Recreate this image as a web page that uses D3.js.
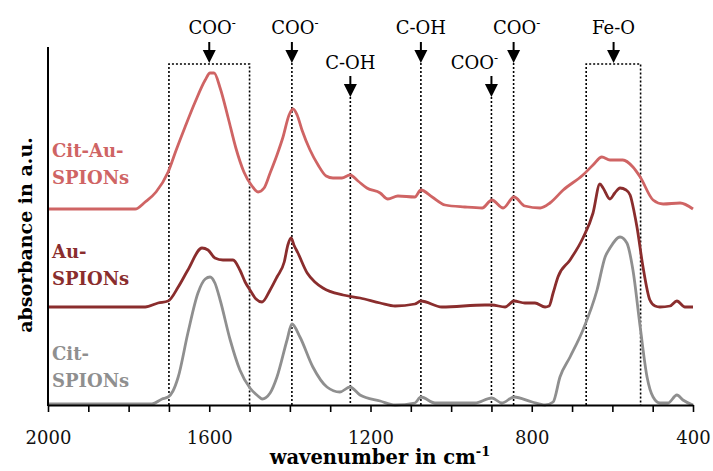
<!DOCTYPE html>
<html>
<head>
<meta charset="utf-8">
<script src="https://cdn.jsdelivr.net/npm/d3@7"></script>
<style>
  body { margin: 0; background: #fff; }
  text { font-family: "DejaVu Serif", "Liberation Serif", serif; }
</style>
</head>
<body>
<svg id="chart"></svg>
<script>
// spectra, [wavenumber in cm-1, absorbance in a.u.] (stacked offsets included)
const citAuSpions = [[2000,1.96],[1850,1.96],[1784,1.96],[1759,2.03],[1732,2.13],[1702,2.33],[1682,2.55],[1660,2.78],[1635,3.03],[1610,3.25],[1598,3.32],[1588,3.32],[1573,3.17],[1553,2.87],[1534,2.57],[1514,2.33],[1494,2.19],[1479,2.13],[1464,2.17],[1449,2.32],[1432,2.50],[1417,2.68],[1402,2.90],[1392,2.96],[1382,2.90],[1370,2.75],[1350,2.55],[1330,2.40],[1310,2.29],[1293,2.27],[1271,2.27],[1251,2.30],[1231,2.24],[1209,2.17],[1176,2.12],[1157,2.06],[1132,2.09],[1090,2.08],[1075,2.15],[1047,2.08],[1015,2.00],[966,1.98],[923,1.97],[899,2.05],[871,1.97],[844,2.08],[817,1.99],[779,1.97],[755,2.02],[722,2.15],[673,2.30],[648,2.40],[626,2.48],[606,2.45],[574,2.45],[549,2.38],[531,2.28],[499,2.05],[474,2.01],[432,2.02],[400,1.96]];

const auSpions = [[2000,0.98],[1759,0.98],[1727,1.02],[1702,1.04],[1677,1.18],[1653,1.35],[1618,1.57],[1603,1.55],[1586,1.47],[1566,1.45],[1541,1.45],[1524,1.35],[1511,1.23],[1499,1.15],[1484,1.06],[1469,1.03],[1449,1.15],[1432,1.28],[1414,1.43],[1405,1.60],[1397,1.67],[1390,1.60],[1380,1.52],[1357,1.32],[1338,1.23],[1318,1.17],[1268,1.10],[1226,1.07],[1176,1.02],[1139,0.99],[1090,1.01],[1075,1.04],[1023,0.98],[916,1.00],[899,1.00],[866,0.98],[844,1.04],[817,1.02],[792,1.02],[767,0.98],[757,0.99],[747,1.12],[735,1.28],[705,1.45],[673,1.67],[648,1.92],[631,2.21],[623,2.17],[606,2.06],[594,2.12],[581,2.17],[566,2.15],[556,2.10],[546,1.93],[539,1.78],[524,1.38],[507,1.05],[494,0.99],[482,0.98],[457,0.99],[440,1.04],[420,0.98],[400,0.98]];

const citSpions = [[2000,0.01],[1742,0.01],[1717,0.06],[1702,0.08],[1690,0.14],[1677,0.28],[1653,0.72],[1628,1.12],[1610,1.26],[1598,1.28],[1586,1.22],[1573,1.05],[1548,0.65],[1524,0.35],[1499,0.17],[1479,0.09],[1469,0.06],[1449,0.12],[1432,0.28],[1407,0.65],[1395,0.81],[1375,0.68],[1343,0.38],[1308,0.18],[1276,0.13],[1251,0.18],[1226,0.10],[1176,0.04],[1139,0.00],[1090,0.02],[1075,0.08],[1040,0.02],[941,0.02],[899,0.07],[874,0.02],[844,0.08],[799,0.03],[767,0.00],[747,0.03],[730,0.28],[705,0.48],[673,0.75],[638,1.15],[618,1.48],[606,1.57],[581,1.68],[564,1.62],[549,1.35],[531,0.78],[514,0.28],[499,0.08],[482,0.02],[462,0.02],[440,0.10],[425,0.05],[400,0.00]];

const seriesNames = [["Cit-Au-", "SPIONs"], ["Au-", "SPIONs"], ["Cit-", "SPIONs"]];
const seriesColors = ["#cf6464", "#8a2d2d", "#8f8f8f"];

// band assignments
const annLabels = ["COO", "COO", "C-OH", "C-OH", "COO", "COO", "Fe-O"];
const annCharges = ["-", "-", "", "", "-", "-", ""];
const annWavenumbers = [1600, 1395, 1250, 1075, 900, 845, 597];
const annTiers = [0, 0, 1, 0, 1, 0, 0];
const annBands = [[1700, 1500], null, null, null, null, null, [665, 530]];

const xTicks = d3.range(2000, 399, -100);
const xLabelTicks = [2000, 1600, 1200, 800, 400];

var width = 713,
    height = 471,
    plotLeft = 48,
    plotRight = 693,
    plotBottom = 405,
    plotTop = 47,
    tierTips = [63, 97],
    tierLabelBase = [34, 69],
    fontSize = 18;

var svg = d3.select("#chart")
    .attr("width", width)
    .attr("height", height);

const x = d3.scaleLinear().domain([2000, 400]).range([plotLeft, plotRight]);
const y = d3.scaleLinear().domain([0, 3.58]).range([plotBottom, plotTop]);

// dotted guide lines and boxes
var guides = svg.append("g")
    .attr("fill", "none")
    .attr("stroke", "#000")
    .attr("stroke-width", 1.6)
    .attr("stroke-dasharray", "2,2");

annWavenumbers.forEach(function (w, i) {
    var tip = tierTips[annTiers[i]];
    if (annBands[i]) {
        var b = annBands[i];
        guides.append("path")
            .attr("d", "M" + x(b[0]) + "," + plotBottom + "V" + (tip + 1) + "H" + x(b[1]) + "V" + plotBottom);
    } else {
        guides.append("line")
            .attr("x1", x(w)).attr("x2", x(w))
            .attr("y1", tip).attr("y2", plotBottom);
    }
});

// spectra
const line = d3.line()
    .x(d => x(d[0]))
    .y(d => y(d[1]))
    .curve(d3.curveMonotoneX);

[citAuSpions, auSpions, citSpions].forEach(function (data, i) {
    svg.append("path")
        .datum(data)
        .attr("fill", "none")
        .attr("stroke", seriesColors[i])
        .attr("stroke-width", 2.8)
        .attr("stroke-linejoin", "round")
        .attr("d", line);
});

// axes
var xAxis = svg.append("g")
    .attr("transform", "translate(0," + plotBottom + ")")
    .call(d3.axisBottom(x)
        .tickValues(xTicks)
        .tickSize(7)
        .tickSizeOuter(0)
        .tickPadding(19)
        .tickFormat(d => xLabelTicks.includes(d) ? d : ""));

xAxis.select(".domain").attr("stroke-width", 2);
xAxis.selectAll(".tick line").attr("stroke-width", 1.6);
xAxis.selectAll(".tick text")
    .attr("font-family", "DejaVu Serif, serif")
    .attr("font-size", fontSize)
    .attr("fill", "#111");

svg.append("line")
    .attr("x1", plotLeft).attr("x2", plotLeft)
    .attr("y1", plotTop).attr("y2", plotBottom + 1)
    .attr("stroke", "#000")
    .attr("stroke-width", 2);

// axis titles
var xTitle = svg.append("text")
    .attr("x", 380)
    .attr("y", 464)
    .attr("text-anchor", "middle")
    .attr("font-size", 19.5)
    .attr("font-weight", "bold")
    .text("wavenumber in cm");
xTitle.append("tspan")
    .attr("font-size", 13)
    .attr("dy", -8)
    .text("-1");

svg.append("text")
    .attr("transform", "translate(32,235) rotate(-90)")
    .attr("text-anchor", "middle")
    .attr("font-size", 19)
    .attr("font-weight", "bold")
    .text("absorbance in a.u.");

// series labels
var labelBase = [157, 258, 360];
seriesNames.forEach(function (lines, i) {
    var t = svg.append("text")
        .attr("x", 52)
        .attr("y", labelBase[i])
        .attr("font-size", fontSize)
        .attr("font-weight", "bold")
        .attr("fill", seriesColors[i]);
    lines.forEach(function (s, j) {
        t.append("tspan")
            .attr("x", 52)
            .attr("dy", j === 0 ? 0 : 27)
            .text(s);
    });
});

// arrows and labels
annWavenumbers.forEach(function (w, i) {
    var tier = annTiers[i],
        tip = tierTips[tier],
        cx = x(w),
        labelShift = (annCharges[i] ? 3 : 0) + (tier === 1 && annCharges[i] ? -20 : 0); // keep the low COO- clear of its neighbour

    svg.append("line")
        .attr("x1", cx).attr("x2", cx)
        .attr("y1", tip - 21).attr("y2", tip - 11)
        .attr("stroke", "#000")
        .attr("stroke-width", 2);

    svg.append("path")
        .attr("d", "M" + (cx - 6.5) + "," + (tip - 13) + "L" + (cx + 6.5) + "," + (tip - 13) + "L" + cx + "," + tip + "Z")
        .attr("fill", "#000");

    var t = svg.append("text")
        .attr("x", cx + labelShift)
        .attr("y", tierLabelBase[tier])
        .attr("text-anchor", "middle")
        .attr("font-size", fontSize)
        .text(annLabels[i]);
    if (annCharges[i]) {
        t.append("tspan")
            .attr("font-size", 12)
            .attr("dy", -7)
            .text(annCharges[i]);
    }
});
</script>
</body>
</html>
